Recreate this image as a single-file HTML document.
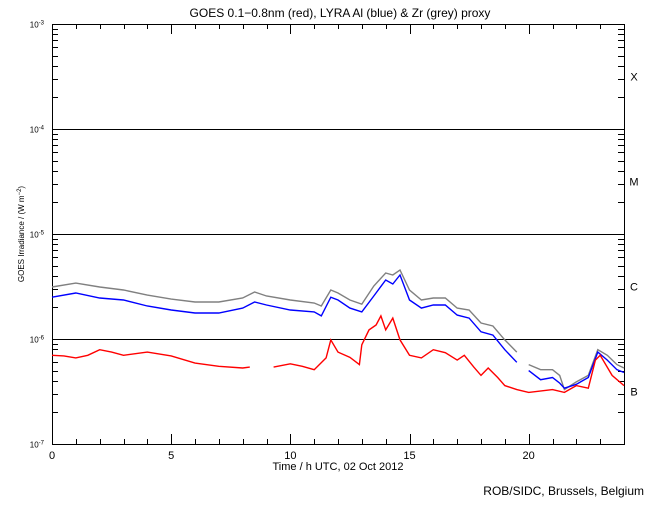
<!DOCTYPE html>
<html><head><meta charset="utf-8"><style>
body{margin:0;background:#fff}
text{font-family:"Liberation Sans",sans-serif}
</style></head><body>
<svg id="c" width="650" height="500" xmlns="http://www.w3.org/2000/svg">
<text x="340" y="17" font-size="12" text-anchor="middle">GOES 0.1−0.8nm (red), LYRA Al (blue) &amp; Zr (grey) proxy</text>
<text x="338" y="470" font-size="11" text-anchor="middle">Time / h UTC, 02 Oct 2012</text>
<text x="24" y="234" font-size="8" text-anchor="middle" transform="rotate(-90 24 234)">GOES Irradiance / (W m<tspan dy="-3" font-size="6">−2</tspan><tspan dy="3">)</tspan></text>
<text x="644" y="495" font-size="12" text-anchor="end">ROB/SIDC, Brussels, Belgium</text>
<g id="axes" shape-rendering="crispEdges"></g><g id="series"></g>
</svg>
<script>
const blueT=[0,1,2,3,4,5,6,7,8,8.5,9,10,11,11.3,11.7,12,12.5,13,13.5,14,14.3,14.6,15,15.5,16,16.5,17,17.5,18,18.5,19,19.5,null,20,20.5,21,21.3,21.5,22,22.5,22.9,23.3,23.7,24];
const blueV=[2.5,2.74,2.46,2.35,2.06,1.89,1.77,1.77,1.97,2.25,2.11,1.89,1.81,1.66,2.5,2.35,1.97,1.81,2.57,3.65,3.34,4.07,2.35,1.97,2.11,2.11,1.69,1.58,1.17,1.09,0.79,0.6,null,0.5,0.41,0.43,0.38,0.34,0.37,0.43,0.75,0.63,0.51,0.48];
const greyT=[0,1,2,3,4,5,6,7,8,8.5,9,10,11,11.3,11.7,12,12.5,13,13.5,14,14.3,14.6,15,15.5,16,16.5,17,17.5,18,18.5,19,19.5,null,20,20.5,21,21.3,21.5,22,22.5,22.9,23.3,23.7,24];
const greyV=[3.13,3.41,3.13,2.93,2.62,2.4,2.25,2.25,2.46,2.8,2.57,2.35,2.2,2.06,2.93,2.74,2.35,2.15,3.2,4.25,4.07,4.54,2.93,2.35,2.46,2.46,1.97,1.89,1.42,1.33,0.98,0.75,null,0.57,0.51,0.51,0.45,0.33,0.39,0.45,0.79,0.7,0.57,0.53];
const redT=[0,0.5,1,1.5,2,2.5,3,4,5,6,7,8,8.3,null,9.3,10,10.5,11,11.5,11.7,12,12.5,12.9,13,13.3,13.6,13.8,14,14.3,14.6,15,15.5,16,16.5,17,17.3,17.7,18,18.3,18.7,19,19.5,20,21,21.5,22,22.5,22.8,23,23.5,24];
const redV=[0.7,0.69,0.66,0.7,0.79,0.75,0.7,0.75,0.69,0.59,0.55,0.53,0.54,null,0.54,0.58,0.55,0.51,0.66,0.98,0.75,0.67,0.57,0.88,1.22,1.36,1.66,1.22,1.58,0.98,0.7,0.66,0.79,0.74,0.63,0.7,0.54,0.45,0.53,0.43,0.36,0.33,0.31,0.33,0.31,0.36,0.34,0.63,0.7,0.45,0.36];
const xTicks=[0,5,10,15,20];
const yDecades=[-3,-4,-5,-6,-7];
const classes=["X","M","C","B"];
const NS="http://www.w3.org/2000/svg";
const L=52,R=624,T=24,B=444;
const xs=h=>L+(R-L)*h/24;
const ys=v=>T+(-3-Math.log10(v))*105;
function el(tag,attrs,parent){const e=document.createElementNS(NS,tag);for(const k in attrs)e.setAttribute(k,attrs[k]);parent.appendChild(e);return e;}
const ax=document.getElementById('axes');
const frame=el('rect',{x:L+0.5,y:T+0.5,width:R-L,height:B-T,fill:'none',stroke:'#000','stroke-width':1},ax);


for(let h=0;h<=24;h++){const major=h%5===0;const len=major?10:5;const x=Math.round(xs(h))+0.5;
 const t1=el('line',{x1:x,x2:x,y1:B,y2:B-len,stroke:'#000'},ax);
 
 
 const t2=el('line',{x1:x,x2:x,y1:T,y2:T+len,stroke:'#000'},ax);
 
 }
xTicks.forEach(h=>{const t=el('text',{x:xs(h),y:B+15,'font-size':11,'text-anchor':'middle'},ax);t.textContent=h;
 
 });
yDecades.forEach(d=>{const y=Math.round(ys(Math.pow(10,d)))+0.5;
 if(d!==-3&&d!==-7){const g=el('line',{x1:L,x2:R,y1:y,y2:y,stroke:'#000'},ax);
  
  }
 const t=el('text',{x:44,y:y+3,'font-size':8,'text-anchor':'end'},ax);
 t.innerHTML='10<tspan dy="-3" font-size="6">'+d+'</tspan>';
 
 
 if(d>-7){for(let m=2;m<=9;m++){const yy=Math.round(ys(m*Math.pow(10,d-1)))+0.5;
  const a=el('line',{x1:L,x2:L+6,y1:yy,y2:yy,stroke:'#000'},ax);
  
  
  const b=el('line',{x1:R-6,x2:R,y1:yy,y2:yy,stroke:'#000'},ax);
  
  }}});
classes.forEach((c,i)=>{const y=(ys(Math.pow(10,-3-i))+ys(Math.pow(10,-4-i)))/2;
 const t=el('text',{x:634,y:y+4,'font-size':11,'text-anchor':'middle'},ax);t.textContent=c;
 
 });
const sg=document.getElementById('series');
function draw(T_,V,col,name){let d='';let pen=false;
 for(let i=0;i<T_.length;i++){if(T_[i]===null){pen=false;continue;}
  d+=(pen?'L':'M')+xs(T_[i]).toFixed(1)+' '+ys(V[i]*1e-6).toFixed(1);pen=true;}
 const p=el('path',{d:d,fill:'none',stroke:col,'stroke-width':1.4},sg);
 
 }
draw(greyT,greyV,'#808080','zr-grey-series');
draw(blueT,blueV,'#0000ff','al-blue-series');
draw(redT,redV,'#ff0000','goes-red-series');
</script>
</body></html>
